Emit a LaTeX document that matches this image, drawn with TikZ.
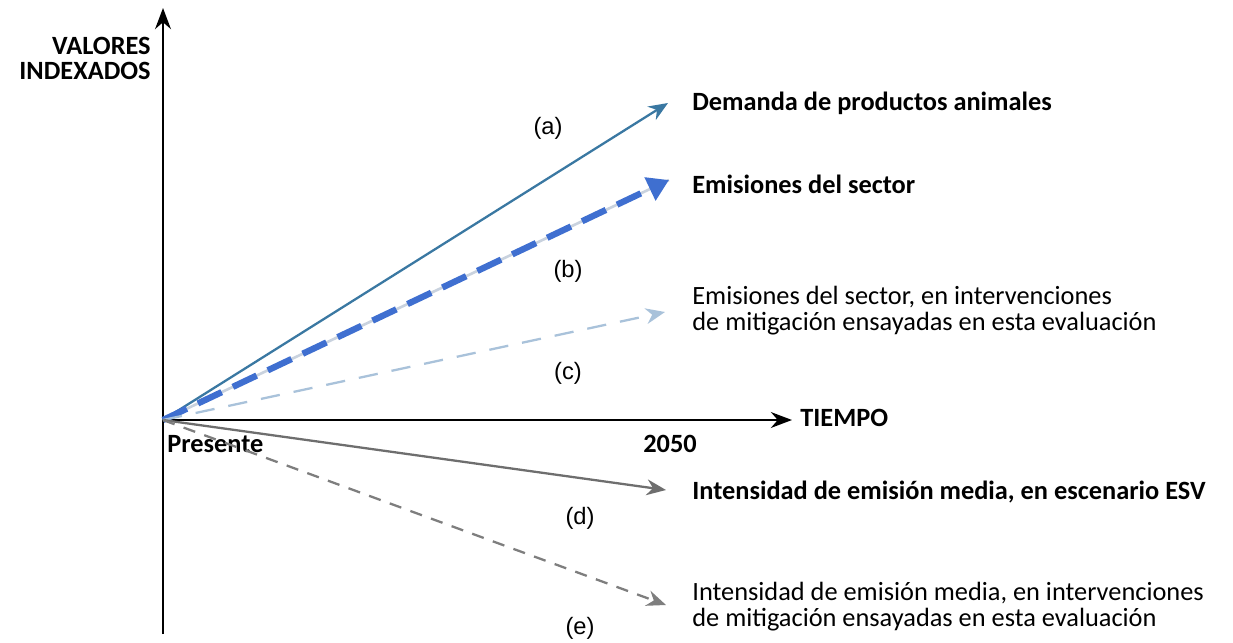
\documentclass[tikz,border=0pt]{standalone}
\usepackage{fontspec}
\setmainfont{Carlito}
\newfontfamily\arialfont{Liberation Sans}
\usetikzlibrary{arrows.meta}
\definecolor{acol}{HTML}{3A78A2}
\definecolor{bcol}{HTML}{3F6FD0}
\definecolor{bunder}{HTML}{C9D2DE}
\definecolor{ccol}{HTML}{A9C2DA}
\definecolor{dcol}{HTML}{6E6E6E}
\definecolor{ecol}{HTML}{7E7E7E}
\tikzset{
  axis/.style={line width=1.4pt,-{Stealth[length=12pt,width=9pt]}},
  lbl/.style={font=\fontsize{15}{17}\selectfont\bfseries,anchor=west,inner sep=0pt},
  lbltwo/.style={font=\fontsize{15}{14.7}\selectfont,anchor=west,align=left,inner sep=0pt},
  letter/.style={font=\arialfont\fontsize{13.5}{15}\selectfont,inner sep=0pt}
}
\begin{document}
\begin{tikzpicture}[x=0.02cm,y=-0.02cm]
    \useasboundingbox (0,0) rectangle (1233,642);
    \coordinate (O) at (163,420);
    \coordinate (ybot) at (163,634);
    \coordinate (ytop) at (163,8);
    \coordinate (xend) at (792,420);
    \draw[axis] (ybot) -- (ytop);   % vertical axis
    \draw[axis] (O) -- (xend);      % time axis
    \node[font=\fontsize{15}{14.2}\selectfont\bfseries,align=right,anchor=east,inner sep=0pt] (yl) at (151,58) {VALORES\\INDEXADOS};
    \node[lbl] (tl) at (800,418) {TIEMPO};
    \node[lbl] (pr) at (167,444) {Presente};
    \node[lbl] (yr) at (643,444) {2050};
    % arrow ends
    \coordinate (ea) at (668,103);
    \coordinate (eb) at (669,180);
    \coordinate (ec) at (665,312);
    \coordinate (ed) at (666,490);
    \coordinate (ee) at (666,605);
    % lines
    \draw[acol,line width=1.3pt,-{Stealth[length=11pt,width=9pt]}] (O) -- (ea);
    \draw[bunder,line width=1.5pt] (O) -- (eb);
    \draw[bcol,line width=3.6pt,dash pattern=on 15pt off 7pt,-{Triangle[length=12pt,width=14pt]}] (O) -- (eb);
    \draw[ccol,line width=1.3pt,dash pattern=on 11pt off 8pt,-{Stealth[length=11pt,width=9pt]}] (O) -- (ec);
    \draw[dcol,line width=1.3pt,-{Stealth[length=11pt,width=9pt]}] (O) -- (ed);
    \draw[ecol,line width=1.3pt,dash pattern=on 7pt off 5.5pt,-{Stealth[length=11pt,width=9pt]}] (O) -- (ee);
    % texts
    \node[lbl] (ta) at (692,103) {Demanda de productos animales};
    \node[lbl] (tb) at (692,184) {Emisiones del sector};
    \node[lbltwo] (tc) at (692,311) {Emisiones del sector, en intervenciones\\de mitigación ensayadas en esta evaluación};
    \node[lbl] (td) at (692,492) {Intensidad de emisión media, en escenario ESV};
    \node[lbltwo] (te) at (692,607) {Intensidad de emisión media, en intervenciones\\de mitigación ensayadas en esta evaluación};
    \node[letter] (la) at (548,128) {(a)};
    \node[letter] (lb) at (568,271) {(b)};
    \node[letter] (lc) at (568,373) {(c)};
    \node[letter] (ld) at (580,518) {(d)};
    \node[letter] (le) at (580,628) {(e)};
\end{tikzpicture}
\end{document}
